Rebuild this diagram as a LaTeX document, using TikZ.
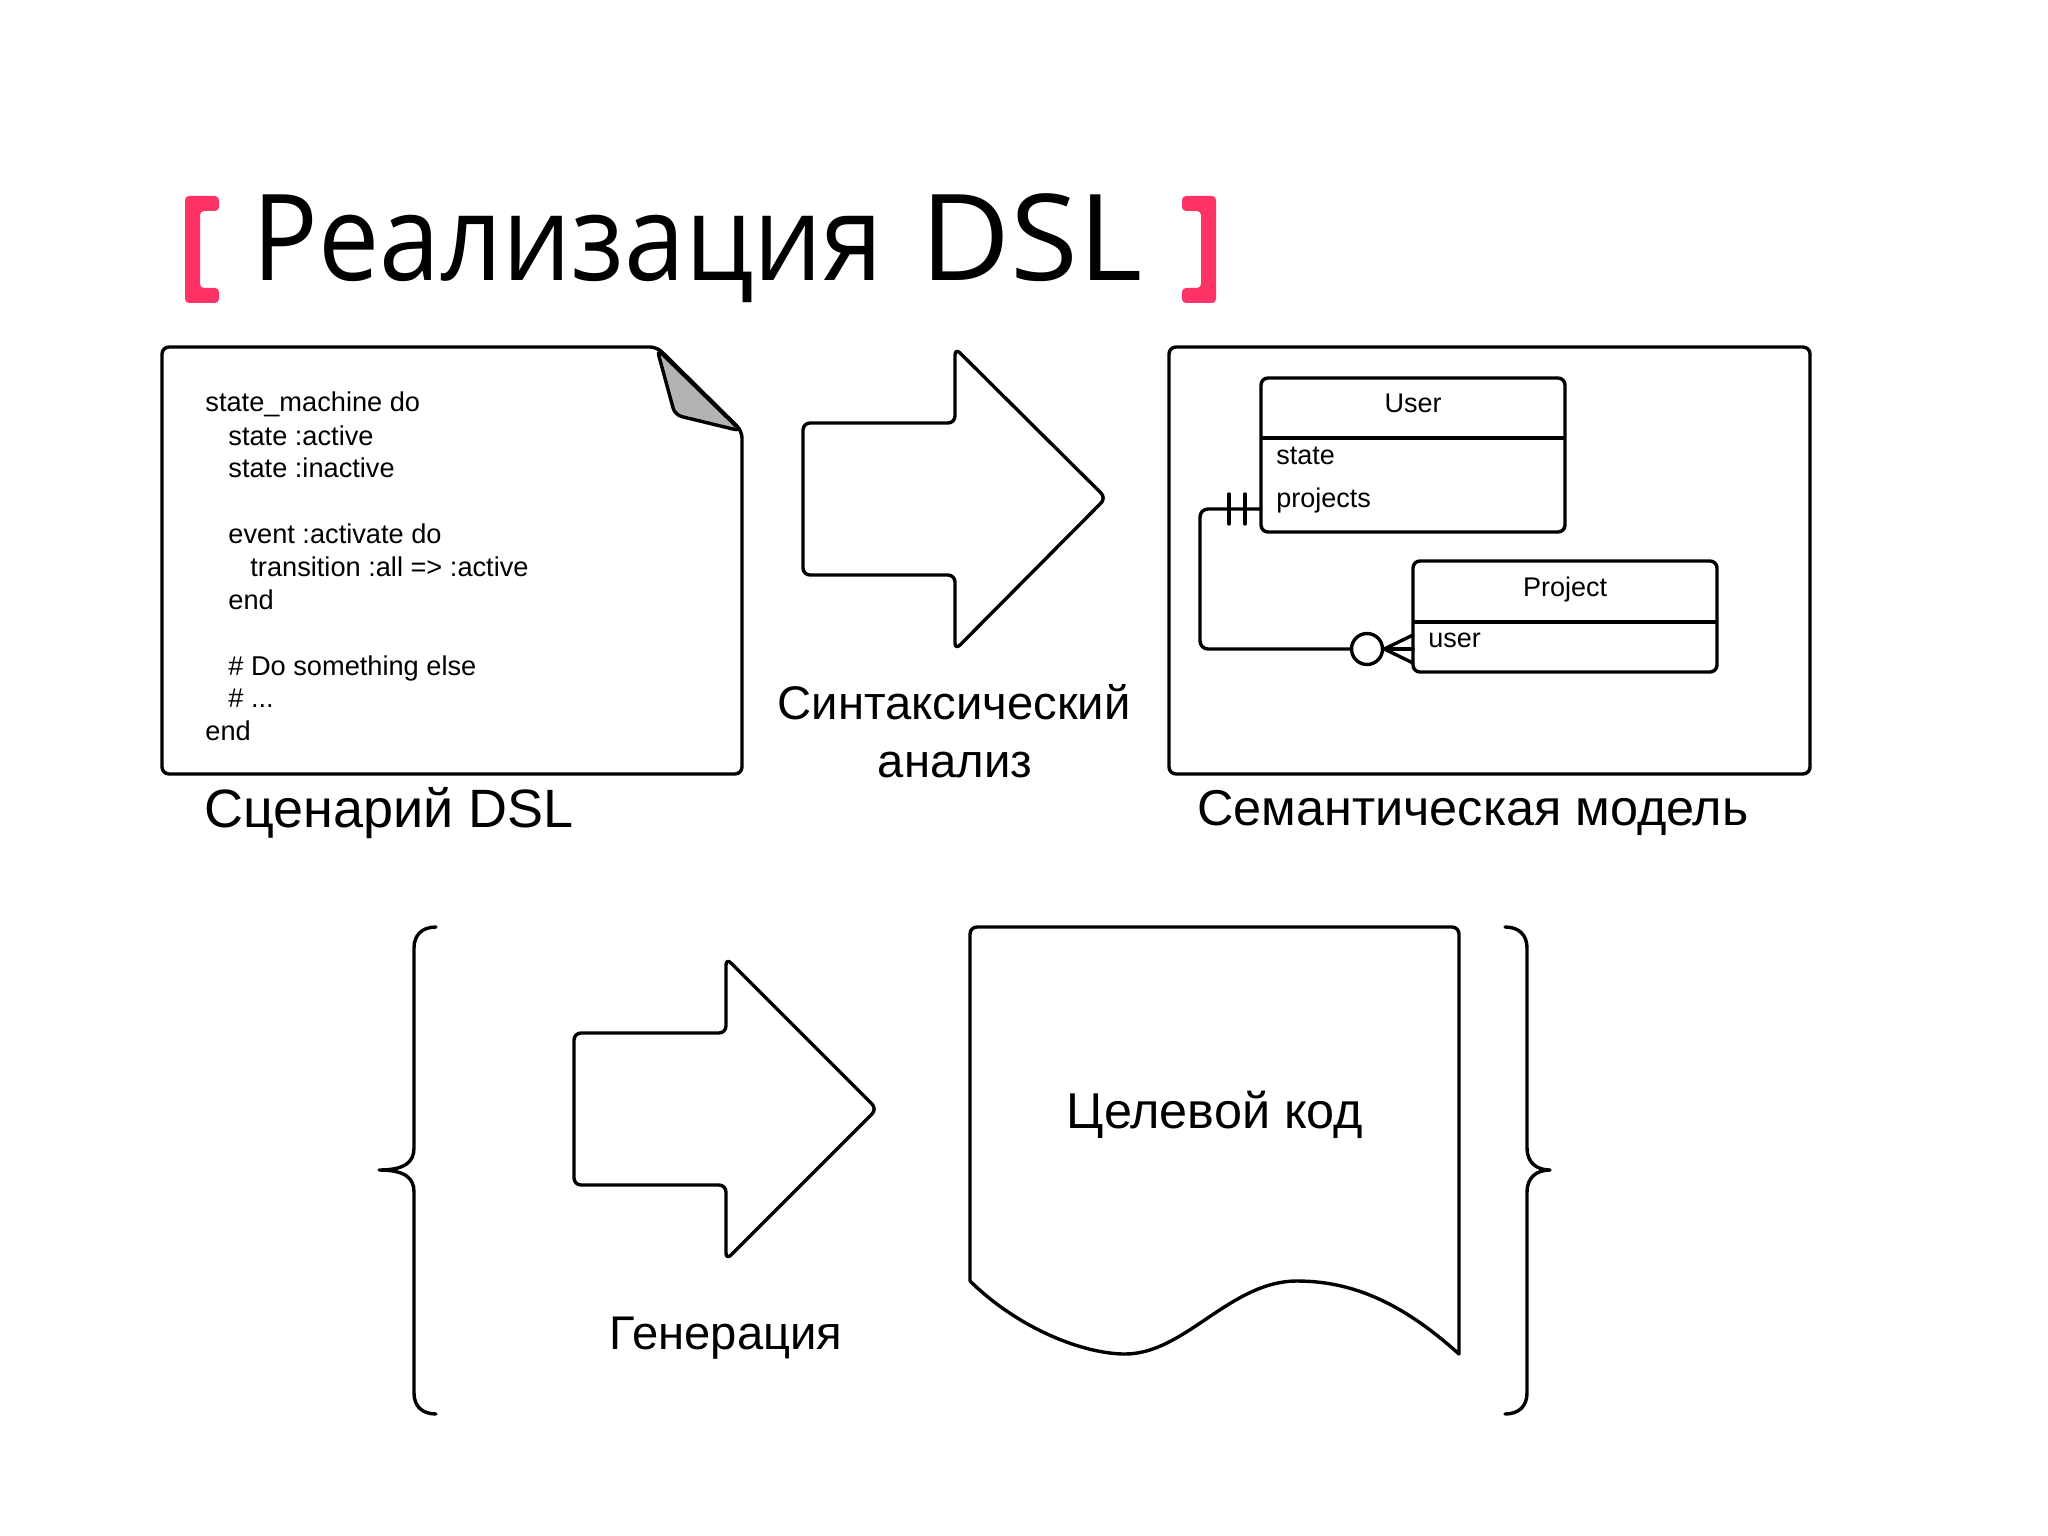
\documentclass[tikz,border=0pt]{standalone}
\usepackage{fontspec}
\usepackage{graphicx}
\setmainfont{Liberation Sans}
\newfontfamily\titlefont{Open Sans}
\usetikzlibrary{shapes.geometric}
\definecolor{titlepink}{HTML}{FF3366}
\definecolor{foldgray}{HTML}{B3B3B3}
\tikzset{
  x=0.5pt,y=-0.5pt,
  outline/.style={draw=black,line width=1.7pt,line join=round,line cap=round},
  panel/.style={outline,rounded corners=3.5pt},
  entity/.style={panel,rectangle,inner sep=0pt,anchor=north west},
  divider/.style={draw=black,line width=1.7pt,shorten <=1pt,shorten >=1pt},
  code/.style={anchor=base west,inner sep=0pt,font=\fontsize{13.6}{16}\selectfont},
  caption/.style={anchor=base,inner sep=0pt,font=\fontsize{23.6}{28}\selectfont},
  bigcap/.style={anchor=base,inner sep=0pt,font=\fontsize{25.2}{32}\selectfont},
  field/.style={anchor=base west,inner sep=0pt,font=\fontsize{13.5}{16}\selectfont},
  ename/.style={anchor=base,inner sep=0pt,font=\fontsize{13.5}{16}\selectfont},
  bracket/.style={fill=titlepink,draw=none,rounded corners=2pt}
}
\begin{document}
\begin{tikzpicture}
\useasboundingbox (0,0) rectangle (2048,1535);
\fill[white] (0,0) rectangle (2048,1535);
% title
\node[anchor=base west,inner sep=0pt,font=\titlefont\fontsize{60}{70}\selectfont] (title) at (252,281) {\scalebox{0.91}[1]{Реализация}\hspace{18.5pt}\scalebox{1.03}[1]{DSL}};
\path[bracket] (185,196) -- (219,196) -- (219,211) -- (200,211) -- (200,288) -- (219,288) -- (219,303) -- (185,303) -- cycle;
\path[bracket] (1216,196) -- (1182,196) -- (1182,211) -- (1201,211) -- (1201,288) -- (1182,288) -- (1182,303) -- (1216,303) -- cycle;
% script document
\draw[panel] (657,347) -- (162,347) -- (162,774) -- (742,774) -- (742,431) -- cycle;
\filldraw[outline,fill=foldgray,rounded corners=3.5pt] (657,349) -- (675,415) -- (741,431) -- cycle;
\node[code] (c1) at (205,411) {state\_machine do};
\node[code] (c2) at (228,445) {state :active};
\node[code] (c3) at (228,477) {state :inactive};
\node[code] (c4) at (228,543) {event :activate do};
\node[code] (c5) at (250,576) {transition :all => :active};
\node[code] (c6) at (228,609) {end};
\node[code] (c7) at (228,675) {\# Do something else};
\node[code] (c8) at (228,707) {\# ...};
\node[code] (c9) at (205,740) {end};
\node[bigcap,font=\fontsize{27}{32}\selectfont] (scap) at (389,827) {Сценарий DSL};
% arrow 1
\draw[panel] (803,423) -- (955,423) -- (955,348) -- (1106,498) -- (955,650) -- (955,575) -- (803,575) -- cycle;
\node[caption] (parse1) at (954,719) {Синтаксический};
\node[caption] (parse2) at (955,777) {анализ};
% semantic model
\draw[panel] (1169,347) rectangle (1810,774);
\node[entity,minimum width=152pt,minimum height=77pt] (user) at (1259.3,376.3) {};
\draw[divider] (user.west |- 0,438) -- (user.east |- 0,438);
\node[ename] (uname) at (1413,412) {User};
\node[field] (f1) at (1276,464) {state};
\node[field] (f2) at (1276,507) {projects};
\node[entity,minimum width=152pt,minimum height=55.5pt] (proj) at (1411.3,559.3) {};
\draw[divider] (proj.west |- 0,622) -- (proj.east |- 0,622);
\node[ename] (pname) at (1565,596) {Project};
\node[field] (f3) at (1428,647) {user};
\node[ellipse,draw=black,line width=1.7pt,fill=white,minimum width=15.5pt,minimum height=15.5pt,inner sep=0pt] (zero) at (1367,649) {};
\coordinate (ua) at (1261,509);
\coordinate (pa) at (1413,649);
\coordinate (pu) at (1413,635);
\coordinate (pd) at (1413,663);
\coordinate (t1a) at (1229,494);
\coordinate (t1b) at (1229,524);
\coordinate (t2a) at (1245,494);
\coordinate (t2b) at (1245,524);
\draw[outline,rounded corners=4pt] (ua) -- (1200,509) -- (1200,649) -- (zero.west);
\draw[outline] (t1a) -- (t1b);
\draw[outline] (t2a) -- (t2b);
\draw[outline] (zero.east) -- (pa);
\draw[outline] (zero.east) -- (pu);
\draw[outline] (zero.east) -- (pd);
\node[bigcap] (mcap) at (1473,825) {Семантическая модель};
% arrow 2
\draw[panel] (574,1033) -- (726,1033) -- (726,958) -- (877,1109) -- (726,1260) -- (726,1185) -- (574,1185) -- cycle;
\node[caption] (gen) at (726,1349) {Генерация};
% target
\draw[outline,rounded corners=3.5pt] (970,1281) -- (970,927) -- (1459,927) -- (1459,1354);
\draw[outline] (970,1281) .. controls (1020,1330) and (1085,1354) .. (1125,1354) .. controls (1185,1354) and (1230,1281) .. (1297,1281) .. controls (1360,1281) and (1410,1310) .. (1459,1354);
\node[bigcap] (tcode) at (1215,1128) {Целевой код};
% braces
\draw[outline] (436,927) .. controls (422,927) and (414,935) .. (414,948) -- (414,1148) .. controls (414,1162) and (405,1170) .. (379,1170) .. controls (405,1170) and (414,1178) .. (414,1192) -- (414,1393) .. controls (414,1406) and (422,1414) .. (436,1414);
\draw[outline] (1505,927) .. controls (1519,927) and (1527,935) .. (1527,948) -- (1527,1148) .. controls (1527,1162) and (1536,1170) .. (1550,1170) .. controls (1536,1170) and (1527,1178) .. (1527,1192) -- (1527,1393) .. controls (1527,1406) and (1519,1414) .. (1505,1414);
\end{tikzpicture}
\end{document}
